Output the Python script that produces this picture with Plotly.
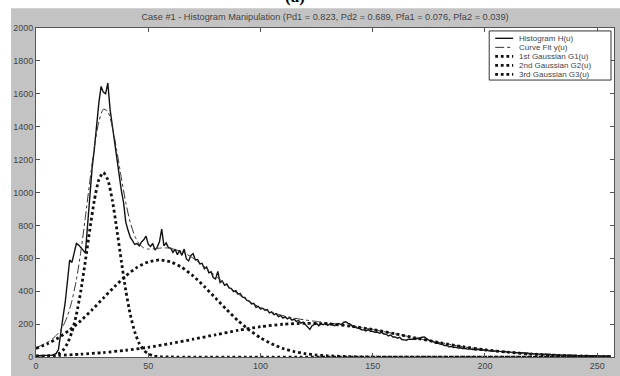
import plotly.graph_objects as go

# ---------------- data ----------------
hist_u = list(range(256))
hist_v = [
    8, 6, 9, 7, 10, 9, 12, 11, 15, 22,
    45, 130, 240, 330, 470, 590, 575, 640, 690, 680,
    668, 650, 632, 800, 1010, 1150, 1265, 1420, 1545, 1645,
    1610, 1600, 1665, 1505, 1400, 1310, 1200, 1120, 1015, 940,
    820, 770, 728, 708, 684, 690, 676, 700, 712, 735,
    686, 672, 690, 650, 668, 700, 778, 676, 694, 664,
    662, 636, 655, 622, 648, 618, 656, 596, 584, 618,
    628, 590, 592, 566, 570, 536, 548, 512, 518, 482,
    474, 520, 452, 462, 436, 444, 420, 416, 398, 404,
    382, 386, 364, 362, 344, 340, 322, 326, 302, 308,
    292, 296, 284, 288, 268, 274, 258, 264, 246, 252,
    236, 244, 232, 240, 224, 230, 216, 222, 206, 212,
    198, 186, 168, 190, 196, 204, 190, 202, 196, 206,
    192, 202, 198, 190, 200, 204, 196, 210, 214, 204,
    200, 188, 186, 176, 174, 166, 165, 158, 166, 156,
    156, 150, 152, 144, 150, 140, 138, 128, 134, 122,
    122, 114, 120, 106, 104, 102, 108, 108, 110, 108,
    114, 114, 120, 122, 112, 104, 94, 94, 84, 84,
    78, 77, 70, 70, 62, 64, 58, 60, 54, 56,
    52, 53, 48, 50, 47, 48, 43, 46, 41, 44,
    40, 42, 37, 40, 35, 37, 34, 35, 31, 33,
    29, 31, 28, 30, 25, 27, 24, 26, 21, 24,
    20, 22, 19, 21, 17, 19, 16, 18, 14, 17,
    13, 15, 12, 14, 11, 13, 10, 12, 9, 11,
    9, 10, 8, 10, 7, 9, 7, 8, 6, 8,
    6, 7, 5, 6, 5, 5,
]

fit_u = [0, 2, 4, 6, 8, 10, 12, 14, 16, 18, 20, 22, 24, 26, 28, 30, 32, 34, 36, 38,
         40, 42, 44, 46, 48, 50, 52, 54, 56, 58, 60, 65, 70, 75, 80, 85, 90, 95, 100,
         105, 110, 115, 120, 125, 130, 135, 140, 145, 150, 155, 160, 165, 170, 175,
         180, 185, 190, 195, 200, 205, 210, 215, 220, 225, 230, 235, 240, 245, 250, 256]
fit_v = [58, 68, 82, 97, 118, 146, 186, 248, 341, 470, 642, 850, 1071, 1277, 1431,
         1507, 1493, 1400, 1254, 1090, 938, 817, 736, 686, 663, 656, 657, 660, 663,
         663, 660, 640, 601, 549, 493, 436, 383, 337, 301, 272, 251, 236, 225, 216,
         208, 199, 190, 179, 167, 154, 141, 127, 113, 100, 87, 75, 63, 53, 44, 36,
         29, 23, 18, 14, 11, 8, 6, 4, 3, 2]

g1_u = [0, 4, 6, 8, 10, 12, 14, 16, 18, 20, 22, 24, 26, 28, 30, 32, 34, 36, 38, 40,
        42, 44, 46, 48, 50, 52, 54, 56, 60, 256]
g1_v = [0, 1, 3, 8, 19, 41, 82, 152, 258, 404, 584, 777, 953, 1077, 1122, 1077, 953,
        777, 584, 404, 258, 152, 82, 41, 19, 8, 3, 1, 0, 0]

g2_u = [0, 5, 10, 15, 20, 25, 30, 35, 40, 45, 50, 55, 60, 65, 70, 75, 80, 85, 90, 95,
        100, 105, 110, 115, 120, 125, 130, 140, 150, 256]
g2_v = [52, 80, 117, 164, 221, 287, 358, 428, 493, 545, 578, 590, 578, 545, 493, 428,
        358, 287, 221, 164, 117, 80, 52, 33, 20, 12, 7, 2, 0, 0]

g3_u = [0, 10, 20, 30, 40, 50, 60, 70, 80, 90, 100, 110, 120, 130, 140, 150, 160, 170,
        180, 190, 200, 210, 220, 230, 240, 250, 256]
g3_v = [6, 10, 17, 27, 41, 59, 82, 108, 135, 162, 184, 199, 205, 201, 188, 167, 141,
        113, 87, 63, 44, 29, 18, 11, 6, 3, 2]

series_names = ["Histogram H(u)", "Curve Fit y(u)", "1st Gaussian G1(u)",
                "2nd Gaussian G2(u)", "3rd Gaussian G3(u)"]

x_ticks = [0, 50, 100, 150, 200, 250]
y_ticks = [0, 200, 400, 600, 800, 1000, 1200, 1400, 1600, 1800, 2000]

title_text = ("Case #1 - Histogram Manipulation (Pd1 = 0.823, Pd2 = 0.689, "
              "Pfa1 = 0.076, Pfa2 = 0.039)")

# ---------------- styles ----------------
hist_line = dict(color="#111111", width=1.4)
fit_line = dict(color="#333333", width=1, dash="dashdot")
dot_line = dict(color="#111111", width=2.8, dash="2.8px,2.8px")
styles = [hist_line, fit_line, dot_line, dot_line, dot_line]

# plot area geometry (pixels) for paper-coordinate conversion
W, H = 620, 376
ML, MR, MT, MB = 36, 5, 28, 13
PW, PH = W - ML - MR, H - MT - MB


def px(x):
    return (x - ML) / PW


def py(y):
    return (H - MB - y) / PH


# ---------------- figure ----------------
fig = go.Figure()

fig.add_trace(go.Scatter(x=hist_u, y=hist_v, mode="lines", name=series_names[0],
                         line=hist_line))
fig.add_trace(go.Scatter(x=fit_u, y=fit_v, mode="lines", name=series_names[1],
                         line=dict(**fit_line, shape="spline", smoothing=0.6)))
for uu, vv, nm in [(g1_u, g1_v, series_names[2]), (g2_u, g2_v, series_names[3]),
                   (g3_u, g3_v, series_names[4])]:
    fig.add_trace(go.Scatter(x=uu, y=vv, mode="lines", name=nm,
                             line=dict(**dot_line, shape="spline", smoothing=0.6)))

axis_common = dict(showgrid=False, zeroline=False, showline=True, linecolor="#555555",
                   linewidth=1, mirror="ticks", ticks="inside", ticklen=4,
                   tickcolor="#555555",
                   tickfont=dict(family="Liberation Sans, Arial", size=9, color="#444444"))

shapes = [
    # white margins of the scanned figure (top strip, left strip)
    dict(type="rect", xref="paper", yref="paper", x0=-0.1, x1=1.1,
         y0=py(8), y1=1.2, fillcolor="white", line=dict(width=0), layer="below"),
    dict(type="rect", xref="paper", yref="paper", x0=-0.1, x1=px(11),
         y0=-0.1, y1=1.2, fillcolor="white", line=dict(width=0), layer="below"),
    # legend box
    dict(type="rect", xref="paper", yref="paper", x0=px(490), x1=px(612),
         y0=py(81), y1=py(31), fillcolor="white",
         line=dict(color="#333333", width=1), layer="above"),
]
annotations = [
    dict(text="<b>(a)</b>", xref="paper", yref="paper", x=px(295),
         y=py(8), xanchor="center", yanchor="bottom", showarrow=False,
         font=dict(family="Liberation Serif, Times New Roman", size=17, color="black")),
]
row_y0, row_dy = 38.5, 9.2
for i, (nm, st) in enumerate(zip(series_names, styles)):
    yy = row_y0 + i * row_dy
    shapes.append(dict(type="line", xref="paper", yref="paper", x0=px(496), x1=px(514),
                       y0=py(yy), y1=py(yy), line=st, layer="above"))
    annotations.append(dict(text=nm, xref="paper", yref="paper", x=px(518), y=py(yy),
                            xanchor="left", yanchor="middle", showarrow=False,
                            font=dict(family="Liberation Sans, Arial", size=8,
                                      color="#444444")))

fig.update_layout(
    width=W, height=H,
    margin=dict(l=ML, r=MR, t=MT, b=MB),
    paper_bgcolor="#c3c3c3",
    plot_bgcolor="white",
    title=dict(text=title_text, x=0.5, xref="paper", xanchor="center",
               y=1 - 17 / H, yanchor="middle",
               font=dict(family="Liberation Sans, Arial", size=9.2, color="#444444")),
    xaxis=dict(range=[0, 257.5], tickvals=x_ticks, **axis_common),
    yaxis=dict(range=[0, 2000], tickvals=y_ticks, **axis_common),
    showlegend=False,
    shapes=shapes,
    annotations=annotations,
)

fig.write_html("out.html")
